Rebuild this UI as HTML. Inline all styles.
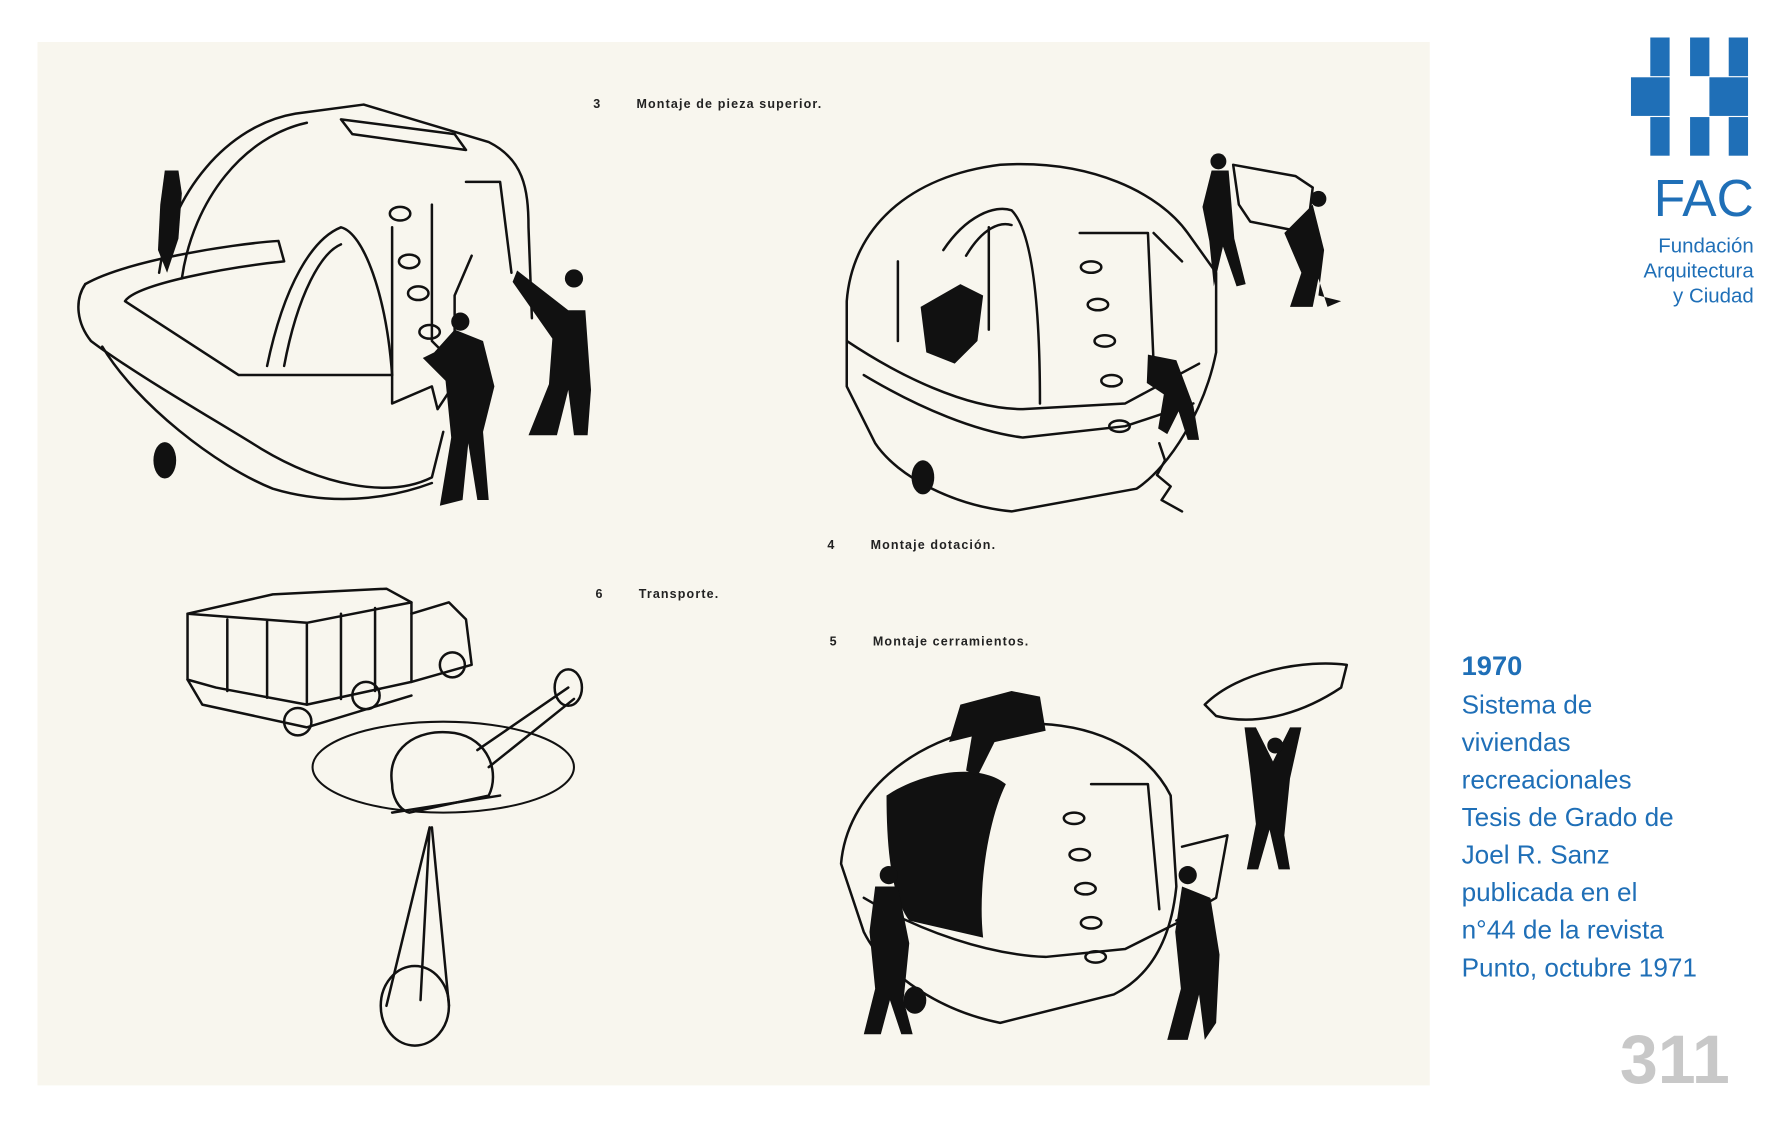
<!DOCTYPE html>
<html><head><meta charset="utf-8"><style>
html,body{margin:0;padding:0;background:#fff;width:1781px;height:1124px;overflow:hidden}
svg{display:block}
</style></head><body>
<svg width="1781" height="1124" viewBox="0 0 1567 989" preserveAspectRatio="none" xmlns="http://www.w3.org/2000/svg">
<rect x="0" y="0" width="1567" height="989" fill="#fff"/>
<rect x="33" y="37" width="1225" height="918" fill="#f8f6ee"/>

<g font-family="Liberation Sans, sans-serif" font-weight="bold" font-size="11" fill="#222" letter-spacing="1">
<text x="522" y="95">3</text><text x="560" y="95">Montaje de pieza superior.</text>
<text x="728" y="483">4</text><text x="766" y="483">Montaje dotación.</text>
<text x="524" y="526">6</text><text x="562" y="526">Transporte.</text>
<text x="730" y="568">5</text><text x="768" y="568">Montaje cerramientos.</text>
</g>

<g fill="none" stroke="#111" stroke-width="2.2" stroke-linejoin="round" stroke-linecap="round">
<path d="M140,240 C150,170 200,110 260,100 L320,92 L430,125 C460,140 465,165 465,200 L468,280"/>
<path d="M160,245 C170,175 215,120 270,108"/>
<path d="M75,250 C110,230 200,215 245,212 L250,230 C200,235 120,250 110,265 L210,330 L345,330 L345,355 L380,340 L385,360 L395,345"/>
<path d="M75,250 C65,265 68,285 80,300 C120,330 190,370 230,395 C280,425 340,440 380,420 L390,380"/>
<path d="M90,305 C120,355 190,410 240,430 C290,445 340,440 380,425"/>
<path d="M235,322 C250,250 275,210 300,200 C320,205 340,260 345,330"/>
<path d="M250,322 C262,258 283,222 300,215"/>
<path d="M345,200 L345,330 M380,180 L380,300 L400,320 L400,260 L415,225"/>
<path d="M410,160 L440,160 L450,240"/>
<ellipse cx="352" cy="188" rx="9" ry="6"/><ellipse cx="360" cy="230" rx="9" ry="6"/><ellipse cx="368" cy="258" rx="9" ry="6"/><ellipse cx="378" cy="292" rx="9" ry="6"/>
<path d="M300,105 L400,118 L410,132 L310,118Z"/>
<path d="M745,265 C750,200 800,155 880,145 C960,140 1020,170 1045,205 L1070,240 L1070,310 C1060,360 1030,410 1000,430 L890,450 C840,445 790,420 770,390 L745,340 Z"/>
<path d="M745,300 C790,330 850,360 900,360 L990,355 L1055,320"/>
<path d="M760,330 C810,360 860,380 900,385 L990,375 L1050,355"/>
<path d="M830,220 C850,190 875,180 890,185 C905,200 915,250 915,355"/>
<path d="M850,225 C865,200 880,195 890,198"/>
<path d="M950,205 L1010,205 L1015,320 M1015,205 L1040,230"/>
<path d="M790,230 L790,300 M870,200 L870,290"/>
<ellipse cx="960" cy="235" rx="9" ry="5"/><ellipse cx="966" cy="268" rx="9" ry="5"/><ellipse cx="972" cy="300" rx="9" ry="5"/><ellipse cx="978" cy="335" rx="9" ry="5"/><ellipse cx="985" cy="375" rx="9" ry="5"/>
<path d="M1020,390 L1025,405 L1018,418 L1030,428 L1022,440 L1040,450"/>
<path d="M1085,145 L1140,155 L1155,165 L1150,205 L1100,195 L1090,180Z"/>
<path d="M165,540 L240,523 L340,518 L362,530 L362,600 L270,620 L190,605 L165,598 Z"/>
<path d="M165,540 L270,548 L362,530 M270,548 L270,620 M200,545 L200,608 M235,546 L235,614 M300,540 L300,615 M330,535 L330,608"/>
<path d="M362,540 L395,530 L410,545 L415,585 L362,600"/>
<path d="M165,598 L178,620 L270,640 L362,612"/>
<circle cx="262" cy="635" r="12"/><circle cx="322" cy="612" r="12"/><circle cx="398" cy="585" r="11"/>
<ellipse cx="390" cy="675" rx="115" ry="40" stroke-width="1.8"/>
<path d="M345,690 C340,660 365,640 400,645 C430,650 440,680 430,700 L360,715 C350,712 345,700 345,690Z" fill="#f8f6ee"/>
<path d="M420,660 L500,605 M430,675 L505,615"/>
<ellipse cx="500" cy="605" rx="12" ry="16"/>
<path d="M345,715 L440,700"/>
<path d="M378,728 L340,885 M380,728 L395,885 M378,728 L370,880"/>
<ellipse cx="365" cy="885" rx="30" ry="35"/>
<path d="M740,760 C745,700 800,650 880,638 C960,630 1010,660 1030,700 L1035,780 C1030,830 1010,860 980,875 L880,900 C830,890 780,860 760,820 Z"/>
<path d="M760,790 C810,820 870,840 920,842 L990,835 L1040,810"/>
<path d="M960,690 L1010,690 L1020,800"/>
<ellipse cx="945" cy="720" rx="9" ry="5"/><ellipse cx="950" cy="752" rx="9" ry="5"/><ellipse cx="955" cy="782" rx="9" ry="5"/><ellipse cx="960" cy="812" rx="9" ry="5"/><ellipse cx="964" cy="842" rx="9" ry="5"/>
<path d="M1060,620 C1090,590 1150,580 1185,585 L1180,605 C1150,625 1110,640 1070,630 Z"/>
<path d="M1040,745 L1080,735 L1070,790 L1035,810"/>
</g>

<g fill="#111">
<path d="M145,150 l12,0 l3,20 l-3,40 l-10,30 l-8,-20 l2,-40Z"/>
<path d="M400,290 l25,10 l10,40 l-10,40 l5,60 l-10,0 l-8,-50 l-5,50 l-20,5 l10,-60 l-5,-50 l-20,-20 l10,-5Z"/>
<path d="M455,238 l45,35 l15,0 l5,70 l-3,40 l-12,0 l-5,-40 l-10,40 l-25,0 l18,-45 l3,-40 l-35,-50Z"/>
<circle cx="405" cy="283" r="8"/><circle cx="505" cy="245" r="8"/>
<path d="M810,270 l35,-20 l20,10 l-5,40 l-20,20 l-25,-10Z"/>
<path d="M1010,312 l25,5 l15,40 l5,30 l-10,0 l-8,-25 l-10,20 l-8,-5 l5,-30 l-15,-10Z"/>
<path d="M1066,150 l15,0 l5,60 l10,40 l-8,2 l-12,-35 l-8,35 l-4,-40 l-6,-30Z"/>
<path d="M1130,205 l25,-25 l10,40 l-5,40 l20,5 l-12,5 l-8,-25 l-5,25 l-20,0 l10,-30Z"/>
<circle cx="1072" cy="142" r="7"/><circle cx="1160" cy="175" r="7"/>
<path d="M780,700 C810,680 860,670 885,690 C870,720 860,780 865,825 L800,810 C785,790 780,750 780,700Z"/>
<path d="M845,620 l45,-12 l25,5 l5,30 l-45,10 l-15,30 l-10,-5 l5,-30 l-20,5Z"/>
<path d="M770,780 l20,0 l10,50 l-5,50 l8,30 l-10,0 l-10,-30 l-8,30 l-15,0 l10,-40 l-5,-50Z"/>
<circle cx="782" cy="770" r="8"/>
<path d="M1040,780 l25,10 l8,50 l-3,60 l-10,15 l-5,-40 l-10,40 l-18,0 l12,-45 l-5,-50Z"/>
<circle cx="1045" cy="770" r="8"/>
<path d="M1095,640 l10,0 l15,30 l15,-30 l10,0 l-10,45 l-5,50 l5,30 l-10,0 l-8,-35 l-10,35 l-10,0 l8,-40 l-5,-45Z"/>
<circle cx="1122" cy="656" r="7"/>
<ellipse cx="145" cy="405" rx="10" ry="16"/><ellipse cx="812" cy="420" rx="10" ry="15"/><ellipse cx="805" cy="880" rx="10" ry="12"/>
</g>

<g fill="#1f6fb7">
<rect x="1452" y="33" width="17" height="34"/><rect x="1487" y="33" width="17" height="34"/><rect x="1521" y="33" width="17" height="34"/>
<rect x="1435" y="68" width="34" height="34"/><rect x="1504" y="68" width="34" height="34"/>
<rect x="1452" y="103" width="17" height="34"/><rect x="1487" y="103" width="17" height="34"/><rect x="1521" y="103" width="17" height="34"/>
</g>
<g font-family="Liberation Sans, sans-serif" fill="#1f6fb7">
<text x="1543" y="190" font-size="46" text-anchor="end" textLength="88" lengthAdjust="spacingAndGlyphs">FAC</text>
<text x="1543" y="222" font-size="18" text-anchor="end">Fundación</text>
<text x="1543" y="244" font-size="18" text-anchor="end">Arquitectura</text>
<text x="1543" y="266" font-size="18" text-anchor="end">y Ciudad</text>
<text x="1286" y="594" font-size="24" font-weight="bold">1970</text>
<g font-size="23">
<text x="1286" y="628">Sistema de</text>
<text x="1286" y="661">viviendas</text>
<text x="1286" y="694">recreacionales</text>
<text x="1286" y="727">Tesis de Grado de</text>
<text x="1286" y="760">Joel R. Sanz</text>
<text x="1286" y="793">publicada en el</text>
<text x="1286" y="826">n°44 de la revista</text>
<text x="1286" y="859">Punto, octubre 1971</text>
</g>
</g>
<text x="1522" y="953" font-family="Liberation Sans, sans-serif" font-weight="bold" font-size="60" fill="#c8c8c8" text-anchor="end">311</text>
</svg>
</body></html>
